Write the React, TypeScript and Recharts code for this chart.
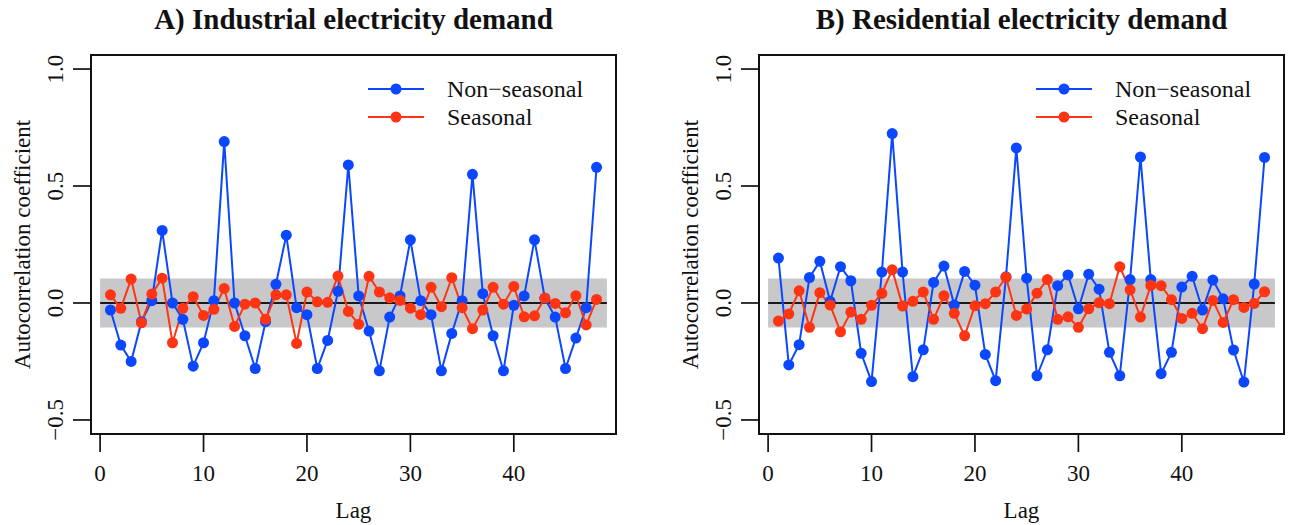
import { LineChart, Line, XAxis, YAxis, ReferenceArea, ReferenceLine } from 'recharts';

// Lags 1..48
const lags = [
    1, 2, 3, 4, 5, 6, 7, 8, 9, 10, 11, 12, 13, 14, 15, 16, 17, 18, 19, 20, 21, 22, 23, 24,
    25, 26, 27, 28, 29, 30, 31, 32, 33, 34, 35, 36, 37, 38, 39, 40, 41, 42, 43, 44, 45, 46, 47, 48,
];

const industrialNonSeasonal = [
    -0.03, -0.18, -0.25, -0.08, 0.01, 0.31, 0.0, -0.07, -0.27, -0.17, 0.01, 0.69,
    0.0, -0.14, -0.28, -0.08, 0.08, 0.29, -0.02, -0.05, -0.28, -0.16, 0.05, 0.59,
    0.03, -0.12, -0.29, -0.06, 0.03, 0.27, 0.01, -0.05, -0.29, -0.13, 0.01, 0.55,
    0.04, -0.14, -0.29, -0.01, 0.03, 0.27, 0.02, -0.06, -0.28, -0.15, -0.02, 0.58,
];
const industrialSeasonal = [
    0.035, -0.023, 0.102, -0.085, 0.038, 0.106, -0.17, -0.023, 0.027, -0.053, -0.027, 0.062,
    -0.1, -0.005, 0.0, -0.07, 0.035, 0.035, -0.173, 0.047, 0.005, 0.003, 0.115, -0.036,
    -0.091, 0.114, 0.047, 0.022, 0.011, -0.022, -0.05, 0.067, -0.016, 0.108, -0.02, -0.11,
    -0.03, 0.067, -0.005, 0.071, -0.059, -0.055, 0.021, -0.002, -0.042, 0.031, -0.094, 0.015,
];
const residentialNonSeasonal = [
    0.192, -0.265, -0.178, 0.109, 0.178, 0.007, 0.155, 0.095, -0.215, -0.336, 0.132, 0.724,
    0.132, -0.315, -0.2, 0.088, 0.158, -0.009, 0.135, 0.076, -0.22, -0.332, 0.112, 0.663,
    0.106, -0.311, -0.2, 0.074, 0.12, -0.025, 0.123, 0.059, -0.211, -0.311, 0.1, 0.624,
    0.1, -0.302, -0.211, 0.068, 0.114, -0.03, 0.098, 0.018, -0.201, -0.338, 0.081, 0.622,
];
const residentialSeasonal = [
    -0.077, -0.047, 0.052, -0.104, 0.044, -0.009, -0.123, -0.039, -0.07, -0.01, 0.041, 0.142,
    -0.013, 0.007, 0.047, -0.07, 0.031, -0.044, -0.14, -0.012, -0.003, 0.047, 0.11, -0.053,
    -0.026, 0.042, 0.1, -0.07, -0.059, -0.104, -0.025, 0.001, -0.003, 0.155, 0.056, -0.06,
    0.075, 0.074, 0.014, -0.066, -0.044, -0.11, 0.011, -0.083, 0.014, -0.019, -0.002, 0.048,
];

const xTicks = [0, 10, 20, 30, 40];
const yTicks = [-0.5, 0, 0.5, 1.0];
const ciBound = 0.105;
const seriesNames = ['Non\u2212seasonal', 'Seasonal'];

const BLUE = '#0b47ff';
const RED = '#ff3412';
const FONT = '"Liberation Serif", "Times New Roman", serif';
const CHART_W = 645;
const CHART_H = 525;
const PLOT_TOP = 55;
const X_AXIS_H = 91;

const fmtY = (v: number) => (v < 0 ? '\u2212' + Math.abs(v).toFixed(1) : v.toFixed(1));

const XTick = (props: any) => (
    <text x={props.x} y={props.y + 27} textAnchor="middle" fontSize={23} fontFamily={FONT} fill="#111">
        {props.payload.value}
    </text>
);

const YTick = (props: any) => {
    const x = props.x - 8;
    return (
        <text
            x={x}
            y={props.y}
            transform={`rotate(-90 ${x} ${props.y})`}
            textAnchor="middle"
            fontSize={23}
            fontFamily={FONT}
            fill="#111"
        >
            {fmtY(props.payload.value)}
        </text>
    );
};

interface PanelProps {
    title: string;
    nonSeasonal: number[];
    seasonal: number[];
    left: number;
    plotLeft: number;
    plotRight: number;
}

function Panel({ title, nonSeasonal, seasonal, left, plotLeft, plotRight }: PanelProps) {
    const data = lags.map((lag, i) => ({ lag, nonSeasonal: nonSeasonal[i], seasonal: seasonal[i] }));
    const boxRight = CHART_W - plotRight;
    const boxCenter = (plotLeft + boxRight) / 2;
    const boxMiddle = (PLOT_TOP + CHART_H - X_AXIS_H) / 2;

    return (
        <div style={{ position: 'absolute', left, top: 0, width: CHART_W, height: CHART_H }}>
            <LineChart
                width={CHART_W}
                height={CHART_H}
                data={data}
                margin={{ top: PLOT_TOP, right: plotRight, bottom: 0, left: 0 }}
            >
                <ReferenceArea x1={0} x2={49} y1={-ciBound} y2={ciBound} fill="#c8c8ca" fillOpacity={1} stroke="none" />
                <ReferenceLine segment={[{ x: 0, y: 0 }, { x: 49, y: 0 }]} stroke="#1a1a1a" strokeWidth={2} />
                <ReferenceArea
                    x1={-0.88}
                    x2={49.88}
                    y1={-0.56}
                    y2={1.06}
                    fill="none"
                    fillOpacity={0}
                    stroke="#111"
                    strokeWidth={2}
                />
                <XAxis
                    type="number"
                    dataKey="lag"
                    domain={[-0.88, 49.88]}
                    ticks={xTicks}
                    interval={0}
                    allowDataOverflow
                    height={X_AXIS_H}
                    axisLine={false}
                    tickSize={18}
                    tickLine={{ stroke: '#111', strokeWidth: 1.7 }}
                    tick={XTick}
                    label={{
                        content: () => (
                            <text x={boxCenter} y={518} textAnchor="middle" fontSize={23} fontFamily={FONT} fill="#111">
                                Lag
                            </text>
                        ),
                    }}
                />
                <YAxis
                    type="number"
                    domain={[-0.56, 1.06]}
                    ticks={yTicks}
                    interval={0}
                    allowDataOverflow
                    width={plotLeft}
                    axisLine={false}
                    tickSize={18}
                    tickLine={{ stroke: '#111', strokeWidth: 1.7 }}
                    tick={YTick}
                    label={{
                        content: () => (
                            <text
                                x={plotLeft - 61}
                                y={boxMiddle}
                                transform={`rotate(-90 ${plotLeft - 61} ${boxMiddle})`}
                                textAnchor="middle"
                                fontSize={23}
                                fontFamily={FONT}
                                fill="#111"
                            >
                                Autocorrelation coefficient
                            </text>
                        ),
                    }}
                />
                <Line
                    type="linear"
                    dataKey="nonSeasonal"
                    stroke={BLUE}
                    strokeWidth={2}
                    dot={{ r: 5.5, fill: BLUE, stroke: BLUE, strokeWidth: 0 }}
                    activeDot={false}
                    isAnimationActive={false}
                />
                <Line
                    type="linear"
                    dataKey="seasonal"
                    stroke={RED}
                    strokeWidth={2}
                    dot={{ r: 5.5, fill: RED, stroke: RED, strokeWidth: 0 }}
                    activeDot={false}
                    isAnimationActive={false}
                />
            </LineChart>

            <div
                style={{
                    position: 'absolute',
                    left: boxCenter - 300,
                    width: 600,
                    top: 3,
                    textAlign: 'center',
                    fontFamily: FONT,
                    fontWeight: 'bold',
                    fontSize: 29,
                    color: '#111',
                }}
            >
                {title}
            </div>

            <svg
                style={{ position: 'absolute', left: boxRight - 250, top: 72, overflow: 'visible' }}
                width={250}
                height={60}
            >
                {[BLUE, RED].map((c, i) => (
                    <g key={i}>
                        <line x1={2} x2={58} y1={17 + i * 28} y2={17 + i * 28} stroke={c} strokeWidth={2} />
                        <circle cx={30} cy={17 + i * 28} r={5.5} fill={c} />
                        <text x={81} y={17 + i * 28 + 8} fontSize={24} fontFamily={FONT} fill="#111">
                            {seriesNames[i]}
                        </text>
                    </g>
                ))}
            </svg>
        </div>
    );
}

export default function App() {
    return (
        <div style={{ position: 'absolute', left: 0, top: 0, width: 1290, height: 525, background: '#fff' }}>
            <Panel
                title="A) Industrial electricity demand"
                nonSeasonal={industrialNonSeasonal}
                seasonal={industrialSeasonal}
                left={0}
                plotLeft={91}
                plotRight={29}
            />
            <Panel
                title="B) Residential electricity demand"
                nonSeasonal={residentialNonSeasonal}
                seasonal={residentialSeasonal}
                left={645}
                plotLeft={114}
                plotRight={6}
            />
        </div>
    );
}
